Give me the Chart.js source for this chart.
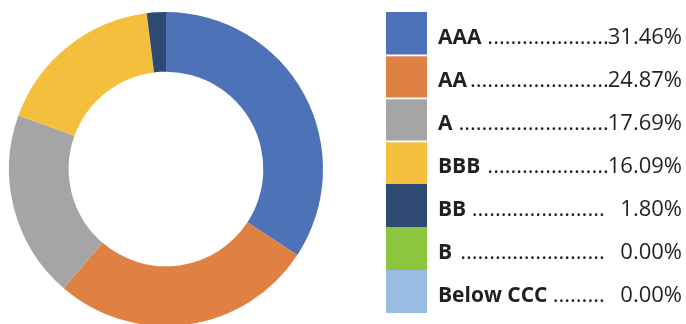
<!DOCTYPE html>
<html>
<head>
<meta charset="utf-8">
<script src="https://cdn.jsdelivr.net/npm/chart.js"></script>
<style>
  html, body { margin: 0; padding: 0; background: #fff; overflow: hidden; }
  #wrap { position: relative; width: 686px; height: 340px; }
</style>
</head>
<body>
<div id="wrap"><canvas id="rating-chart" width="686" height="340"></canvas></div>
<script>
const ratings = ['AAA', 'AA', 'A', 'BBB', 'BB', 'B', 'Below CCC'];
const shares = [31.46, 24.87, 17.69, 16.09, 1.80, 0.00, 0.00];
const colors = ['#4E72B8', '#DF8143', '#A5A5A5', '#F5BF3E', '#2E4A72', '#8CC63F', '#98BCE2'];

// legend with dot leaders, drawn on the chart canvas
const leaderLegend = {
  id: 'leaderLegend',
  afterDraw(chart) {
    const ctx = chart.ctx;
    const boxX = 386, boxW = 41, top = 12, rowH = 43;
    const textX = 438, rightX = 682;
    ctx.save();
    ratings.forEach((name, i) => {
      const y = top + i * rowH;
      ctx.fillStyle = colors[i];
      ctx.fillRect(boxX, y, boxW, rowH);
      if (i > 0 && i < 4) {
        ctx.fillStyle = '#fff';
        ctx.fillRect(boxX, y - 0.5, boxW, 1.8);
      }
      const base = y + 32;
      ctx.fillStyle = '#231F20';
      ctx.textBaseline = 'alphabetic';
      ctx.font = "bold 21px 'Open Sans'";
      ctx.textAlign = 'left';
      ctx.fillText(name, textX, base);
      const labelEnd = textX + ctx.measureText(name).width + 3;
      ctx.font = "22px 'Open Sans'";
      const value = shares[i].toFixed(2) + '%';
      const vw = ctx.measureText(value).width;
      const fullW = ctx.measureText('00.00%').width;
      ctx.textAlign = 'right';
      ctx.fillText(value, rightX, base);
      const dotsEnd = vw < fullW - 2 ? rightX - fullW - 3 : rightX - vw + 1;
      const dotW = ctx.measureText('.').width;
      const n = Math.floor((dotsEnd - labelEnd) / dotW);
      ctx.textAlign = 'left';
      ctx.fillText('.'.repeat(Math.max(n, 0)), dotsEnd - n * dotW, base);
    });
    ctx.restore();
  }
};

new Chart(document.getElementById('rating-chart'), {
  type: 'doughnut',
  data: {
    labels: ratings,
    datasets: [
      {
        data: shares,
        backgroundColor: colors,
        borderWidth: 0,
      },
    ],
  },
  options: {
    responsive: false,
    animation: false,
    cutout: '62%',
    layout: { padding: { left: 9, top: 12, right: 363, bottom: 14 } },
    plugins: {
      legend: { display: false },
      tooltip: { enabled: false },
    },
  },
  plugins: [leaderLegend],
});
</script>
</body>
</html>
